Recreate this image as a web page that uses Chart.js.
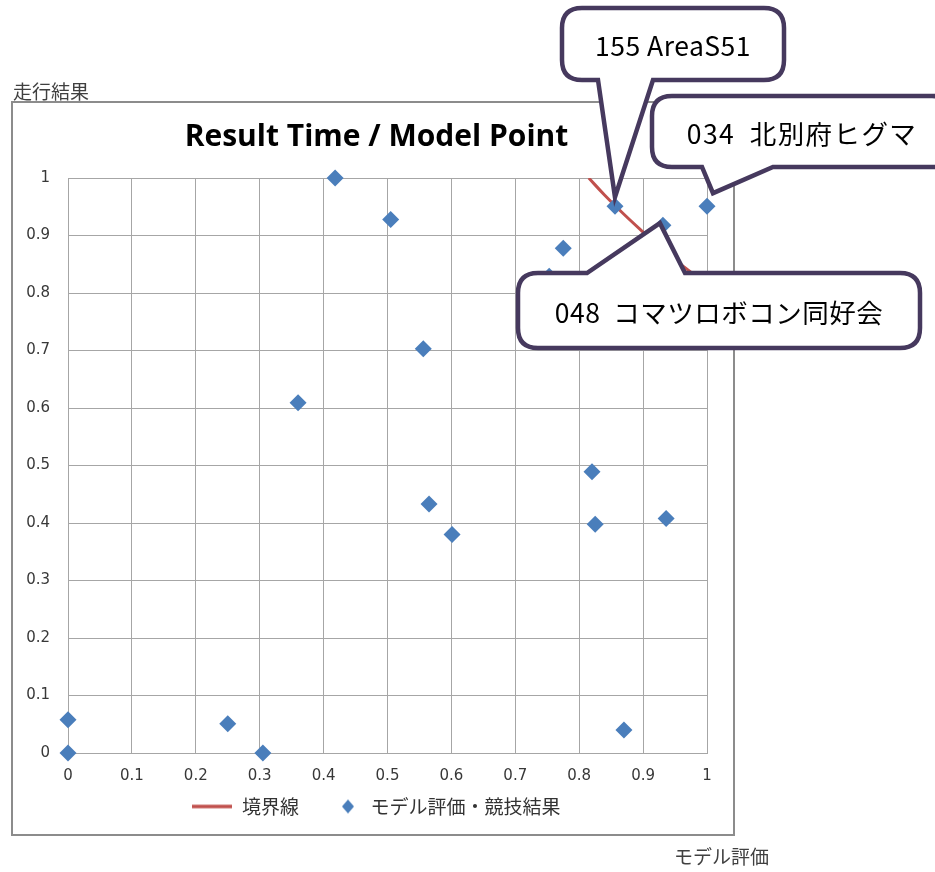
<!DOCTYPE html>
<html>
<head>
<meta charset="utf-8">
<script src="https://cdn.jsdelivr.net/npm/chart.js@4.4.1/dist/chart.umd.min.js"></script>
<style>
  html, body { margin: 0; padding: 0; background: #fff; }
  #wrap { position: relative; width: 935px; height: 872px; overflow: hidden; }
  #myChart { position: absolute; left: 0; top: 0; }
</style>
</head>
<body>
<div id="wrap"><canvas id="myChart" width="935" height="872"></canvas></div>
<script>
// values
const modelScore = [0.418, 0.505, 0.36, 0.556, 0.565, 0.601, 0.775, 0.753, 0.82, 0.825, 0.936, 0.856, 1.0, 0.931, 0, 0, 0.25, 0.305, 0.87];
const runScore   = [1.0, 0.928, 0.609, 0.703, 0.433, 0.38, 0.878, 0.829, 0.489, 0.398, 0.408, 0.951, 0.951, 0.918, 0.058, 0, 0.051, 0, 0.04];
const boundaryX  = [0.815, 0.84, 0.87, 0.9, 0.93, 0.96, 1.0];
const boundaryY  = [1.0, 0.97, 0.937, 0.906, 0.876, 0.849, 0.815];
const xTicks = [0, 0.1, 0.2, 0.3, 0.4, 0.5, 0.6, 0.7, 0.8, 0.9, 1];
const yTicks = [0, 0.1, 0.2, 0.3, 0.4, 0.5, 0.6, 0.7, 0.8, 0.9, 1];
const xTickLabels = ["0", "0.1", "0.2", "0.3", "0.4", "0.5", "0.6", "0.7", "0.8", "0.9", "1"];
const yTickLabels = ["0", "0.1", "0.2", "0.3", "0.4", "0.5", "0.6", "0.7", "0.8", "0.9", "1"];
const seriesNames = ["境界線", "モデル評価・競技結果"];
const chartTitle = "Result Time / Model Point";
const yAxisName = "走行結果";
const xAxisName = "モデル評価";
const calloutTexts = ["155 AreaS51", "034  北別府ヒグマ", "048  コマツロボコン同好会"];
const calloutX = [0.856, 1.0, 0.931];
const calloutY = [0.951, 0.951, 0.918];

const BLUE = "#4a7ebb";
const RED = "#c0504d";
const GRID = "#a6a6a6";
const JP = '"Noto Sans CJK JP", "Noto Sans", sans-serif';

// small legend icons
function makeIcon(kind) {
  const c = document.createElement("canvas");
  c.width = 40; c.height = 16;
  const g = c.getContext("2d");
  if (kind === "line") {
    g.strokeStyle = RED; g.lineWidth = 3.5;
    g.beginPath(); g.moveTo(0, 8); g.lineTo(40, 8); g.stroke();
  } else {
    g.fillStyle = BLUE;
    g.beginPath(); g.moveTo(27, 1); g.lineTo(33, 8); g.lineTo(27, 15); g.lineTo(21, 8); g.closePath(); g.fill();
  }
  return c;
}
const legendIcons = [makeIcon("line"), makeIcon("diamond")];

// callout bubble (rounded box + wedge)
function drawCallout(ctx, box, side, b1, b2, tip, text, spacing) {
  const r = 20;
  const { l, t, rt, b } = box;
  ctx.beginPath();
  ctx.moveTo(l + r, t);
  if (side === "top") { ctx.lineTo(b1, t); ctx.lineTo(tip.x, tip.y); ctx.lineTo(b2, t); }
  ctx.lineTo(rt - r, t);
  ctx.quadraticCurveTo(rt, t, rt, t + r);
  ctx.lineTo(rt, b - r);
  ctx.quadraticCurveTo(rt, b, rt - r, b);
  if (side === "bottom") { ctx.lineTo(b2, b); ctx.lineTo(tip.x, tip.y); ctx.lineTo(b1, b); }
  ctx.lineTo(l + r, b);
  ctx.quadraticCurveTo(l, b, l, b - r);
  ctx.lineTo(l, t + r);
  ctx.quadraticCurveTo(l, t, l + r, t);
  ctx.closePath();
  ctx.fillStyle = "#fff";
  ctx.fill();
  ctx.lineWidth = 4.5;
  ctx.lineJoin = "miter";
  ctx.strokeStyle = "#46395e";
  ctx.stroke();
  ctx.fillStyle = "#000";
  ctx.font = "26.5px " + JP;
  ctx.letterSpacing = spacing;
  ctx.textAlign = "center";
  ctx.textBaseline = "middle";
  ctx.fillText(text, (l + rt) / 2, (t + b) / 2 + 2);
  ctx.letterSpacing = "0px";
}

const decorations = {
  id: "decorations",
  afterLayout(chart) {
    // let tick labels spill past the narrow axis boxes instead of being clipped
    chart.scales.y.left = 0;
    chart.scales.x.bottom = chart.height;
  },
  beforeDraw(chart) {
    const ctx = chart.ctx;
    ctx.save();
    ctx.strokeStyle = "#8c8c8c";
    ctx.lineWidth = 2;
    ctx.strokeRect(12, 102, 722, 733);
    ctx.fillStyle = "#404040";
    ctx.font = "19px " + JP;
    ctx.textAlign = "left";
    ctx.textBaseline = "alphabetic";
    ctx.fillText(yAxisName, 13, 99);
    ctx.fillText(xAxisName, 674, 864);
    ctx.restore();
  },
  afterDraw(chart) {
    const ctx = chart.ctx;
    const xs = chart.scales.x, ys = chart.scales.y;
    const pt = (i) => ({ x: xs.getPixelForValue(calloutX[i]), y: ys.getPixelForValue(calloutY[i]) });
    ctx.save();
    let p = pt(0);
    drawCallout(ctx, { l: 562, t: 8, rt: 784, b: 80 }, "bottom", 598, 653, { x: p.x, y: p.y - 9 }, calloutTexts[0], "0.5px");
    p = pt(1);
    drawCallout(ctx, { l: 652, t: 96, rt: 952, b: 167 }, "bottom", 702, 773, { x: p.x + 6, y: p.y - 13 }, calloutTexts[1], "1.4px");
    p = pt(2);
    drawCallout(ctx, { l: 518, t: 273, rt: 920, b: 348 }, "top", 587, 685, { x: p.x - 3, y: p.y - 2 }, calloutTexts[2], "0.5px");
    ctx.restore();
  }
};

const ctx = document.getElementById("myChart").getContext("2d");
const myChart = new Chart(ctx, {
  type: "scatter",
  data: {
    datasets: [
      {
        label: seriesNames[0],
        data: boundaryX.map((x, i) => ({ x, y: boundaryY[i] })),
        showLine: true,
        borderColor: RED,
        borderWidth: 3,
        pointRadius: 0,
        tension: 0.4,
        order: 2
      },
      {
        label: seriesNames[1],
        data: modelScore.map((x, i) => ({ x, y: runScore[i] })),
        pointStyle: "rectRot",
        pointRadius: 8.5,
        pointBackgroundColor: BLUE,
        pointBorderColor: BLUE,
        pointBorderWidth: 0,
        clip: false,
        order: 1
      }
    ]
  },
  options: {
    responsive: false,
    animation: false,
    layout: { padding: { left: 46, right: 228, top: 102, bottom: 46 } },
    scales: {
      x: {
        type: "linear", min: 0, max: 1,
        afterBuildTicks: (s) => { s.ticks = xTicks.map((v) => ({ value: v })); },
        afterFit: (s) => { s.height = 22; },
        grid: { color: GRID, drawTicks: false },
        border: { color: GRID },
        ticks: { color: "#383838", padding: 14, font: { family: "DejaVu Sans", size: 15 },
          callback: (v, i) => xTickLabels[i] }
      },
      y: {
        type: "linear", min: 0, max: 1,
        afterBuildTicks: (s) => { s.ticks = yTicks.map((v) => ({ value: v })); },
        afterFit: (s) => { s.width = 22; },
        grid: { color: GRID, drawTicks: false },
        border: { color: GRID },
        ticks: { color: "#383838", padding: 18, font: { family: "DejaVu Sans", size: 15 },
          callback: (v, i) => yTickLabels[i] }
      }
    },
    plugins: {
      title: {
        display: true,
        text: chartTitle,
        color: "#000",
        font: { family: "Open Sans", size: 30, weight: "bold" },
        padding: { top: 17, bottom: 23 }
      },
      legend: {
        position: "bottom",
        labels: {
          usePointStyle: true,
          pointStyleWidth: 40,
          padding: 22,
          color: "#333",
          font: { family: JP, size: 19 },
          generateLabels: (chart) => chart.data.datasets.map((ds, i) => ({
            text: ds.label,
            pointStyle: legendIcons[i],
            datasetIndex: i,
            hidden: false,
            lineWidth: 0,
            fillStyle: "transparent",
            strokeStyle: "transparent",
            fontColor: "#333"
          }))
        }
      },
      tooltip: { enabled: false }
    }
  },
  plugins: [decorations]
});
</script>
</body>
</html>
